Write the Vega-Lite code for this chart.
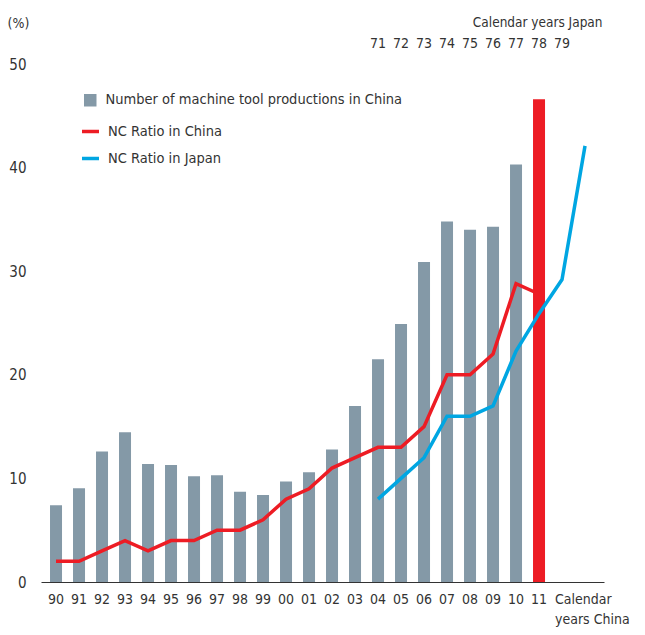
{
  "$schema": "https://vega.github.io/schema/vega-lite/v6.json",
  "autosize": "none",
  "width": 563,
  "height": 518,
  "padding": {"left": 41, "top": 64, "right": 41, "bottom": 53},
  "background": "white",
  "config": {
    "view": {"stroke": null},
    "font": "DejaVu Sans Condensed, Roboto, sans-serif",
    "axis": {"labelFont": "DejaVu Sans Condensed, Roboto, sans-serif", "titleFont": "DejaVu Sans Condensed, Roboto, sans-serif", "labelColor": "#333333", "titleColor": "#333333"},
    "legend": {"labelFont": "DejaVu Sans Condensed, Roboto, sans-serif"}
  },
  "datasets": {
    "bars": [
      {"year": "90", "series": "Number of machine tool productions in China", "value": 7.4},
      {"year": "91", "series": "Number of machine tool productions in China", "value": 9.05},
      {"year": "92", "series": "Number of machine tool productions in China", "value": 12.6},
      {"year": "93", "series": "Number of machine tool productions in China", "value": 14.45},
      {"year": "94", "series": "Number of machine tool productions in China", "value": 11.4},
      {"year": "95", "series": "Number of machine tool productions in China", "value": 11.3},
      {"year": "96", "series": "Number of machine tool productions in China", "value": 10.2},
      {"year": "97", "series": "Number of machine tool productions in China", "value": 10.3},
      {"year": "98", "series": "Number of machine tool productions in China", "value": 8.7},
      {"year": "99", "series": "Number of machine tool productions in China", "value": 8.4},
      {"year": "00", "series": "Number of machine tool productions in China", "value": 9.7},
      {"year": "01", "series": "Number of machine tool productions in China", "value": 10.6},
      {"year": "02", "series": "Number of machine tool productions in China", "value": 12.8},
      {"year": "03", "series": "Number of machine tool productions in China", "value": 17.0},
      {"year": "04", "series": "Number of machine tool productions in China", "value": 21.5},
      {"year": "05", "series": "Number of machine tool productions in China", "value": 24.9},
      {"year": "06", "series": "Number of machine tool productions in China", "value": 30.9},
      {"year": "07", "series": "Number of machine tool productions in China", "value": 34.8},
      {"year": "08", "series": "Number of machine tool productions in China", "value": 34.0},
      {"year": "09", "series": "Number of machine tool productions in China", "value": 34.3},
      {"year": "10", "series": "Number of machine tool productions in China", "value": 40.3},
      {"year": "11", "series": "Number of machine tool productions in China", "value": 46.6}
    ],
    "lines": [
      {"year": "90", "series": "NC Ratio in China", "value": 2},
      {"year": "91", "series": "NC Ratio in China", "value": 2},
      {"year": "92", "series": "NC Ratio in China", "value": 3},
      {"year": "93", "series": "NC Ratio in China", "value": 4},
      {"year": "94", "series": "NC Ratio in China", "value": 3},
      {"year": "95", "series": "NC Ratio in China", "value": 4},
      {"year": "96", "series": "NC Ratio in China", "value": 4},
      {"year": "97", "series": "NC Ratio in China", "value": 5},
      {"year": "98", "series": "NC Ratio in China", "value": 5},
      {"year": "99", "series": "NC Ratio in China", "value": 6},
      {"year": "00", "series": "NC Ratio in China", "value": 8},
      {"year": "01", "series": "NC Ratio in China", "value": 9},
      {"year": "02", "series": "NC Ratio in China", "value": 11},
      {"year": "03", "series": "NC Ratio in China", "value": 12},
      {"year": "04", "series": "NC Ratio in China", "value": 13},
      {"year": "05", "series": "NC Ratio in China", "value": 13},
      {"year": "06", "series": "NC Ratio in China", "value": 15},
      {"year": "07", "series": "NC Ratio in China", "value": 20},
      {"year": "08", "series": "NC Ratio in China", "value": 20},
      {"year": "09", "series": "NC Ratio in China", "value": 22},
      {"year": "10", "series": "NC Ratio in China", "value": 28.8},
      {"year": "11", "series": "NC Ratio in China", "value": 27.8},
      {"year": "04", "series": "NC Ratio in Japan", "value": 8},
      {"year": "05", "series": "NC Ratio in Japan", "value": 10},
      {"year": "06", "series": "NC Ratio in Japan", "value": 12},
      {"year": "07", "series": "NC Ratio in Japan", "value": 16},
      {"year": "08", "series": "NC Ratio in Japan", "value": 16},
      {"year": "09", "series": "NC Ratio in Japan", "value": 17},
      {"year": "10", "series": "NC Ratio in Japan", "value": 22.3},
      {"year": "11", "series": "NC Ratio in Japan", "value": 25.9},
      {"year": "X1", "series": "NC Ratio in Japan", "value": 29.2},
      {"year": "X2", "series": "NC Ratio in Japan", "value": 42.1}
    ]
  },
  "resolve": {"axis": {"x": "independent"}},
  "layer": [
    {
      "data": {"name": "bars"},
      "mark": {"type": "bar"},
      "encoding": {
        "x": {
          "field": "year", "type": "nominal",
          "scale": {
            "domain": ["90","91","92","93","94","95","96","97","98","99","00","01","02","03","04","05","06","07","08","09","10","11","X1","X2"],
            "paddingInner": 0.478, "paddingOuter": 0.478, "align": 0.41
          },
          "axis": {
            "orient": "bottom", "title": null, "ticks": false, "domainColor": "#333333", "domainWidth": 1,
            "labelFontSize": 14, "labelPadding": 10, "labelAngle": 0, "labelOverlap": false, "labelBound": false, "labelFlush": false,
            "labelLineHeight": 20,
            "labelExpr": "datum.value == 'X1' ? '' : datum.value == 'X2' ? ['Calendar', 'years China'] : datum.value",
            "labelAlign": {"condition": {"test": "datum.value == 'X2'", "value": "left"}, "value": "center"},
            "labelOffset": {"condition": {"test": "datum.value == 'X2'", "value": -30}, "value": 0}
          }
        },
        "y": {
          "field": "value", "type": "quantitative",
          "scale": {"domain": [0, 50], "nice": false},
          "axis": {
            "values": [0, 10, 20, 30, 40, 50], "grid": false, "domain": false, "ticks": false,
            "labelFontSize": 15, "labelPadding": 15,
            "title": "(%)", "titleAngle": 0, "titleFontSize": 14, "titleFontWeight": "normal",
            "titleX": -23, "titleY": -41, "titleAlign": "center", "titleBaseline": "middle"
          }
        },
        "fill": {
          "field": "series", "type": "nominal",
          "scale": {"domain": ["Number of machine tool productions in China"], "range": ["#8499a7"]},
          "condition": {"test": "datum.year == '11'", "value": "#ed1c24"},
          "legend": {
            "title": null, "orient": "none", "legendX": 42, "legendY": 29, "padding": 0,
            "symbolType": "square", "symbolSize": 156, "symbolStrokeWidth": 0,
            "labelFontSize": 14.5, "labelColor": "#333333", "labelOffset": 8, "labelLimit": 500
          }
        }
      }
    },
    {
      "data": {"name": "lines"},
      "mark": {"type": "line", "strokeWidth": 3.5, "strokeCap": "butt", "strokeJoin": "miter"},
      "encoding": {
        "x": {
          "field": "year", "type": "nominal",
          "axis": {
            "orient": "top", "domain": false, "ticks": false, "labelAngle": 0,
            "labelFontSize": 14, "labelPadding": 14, "labelOverlap": false, "labelBound": false, "labelFlush": false,
            "labelExpr": "indexof(['04','05','06','07','08','09','10','11','X1'], datum.value) >= 0 ? ['71','72','73','74','75','76','77','78','79'][indexof(['04','05','06','07','08','09','10','11','X1'], datum.value)] : ''",
            "title": "Calendar years Japan", "titleFontSize": 13.5, "titleFontWeight": "normal", "titleAngle": 0,
            "titleX": 561, "titleY": -42, "titleAlign": "right", "titleBaseline": "middle"
          }
        },
        "y": {"field": "value", "type": "quantitative"},
        "stroke": {
          "field": "series", "type": "nominal",
          "scale": {"domain": ["NC Ratio in China", "NC Ratio in Japan"], "range": ["#ed1c24", "#00a6e2"]},
          "legend": {
            "title": null, "orient": "none", "legendX": 39, "legendY": 57, "padding": 0,
            "symbolType": "stroke", "symbolSize": 289, "symbolStrokeWidth": 3.5,
            "labelFontSize": 14.5, "labelColor": "#333333", "labelOffset": 7, "rowPadding": 9, "labelLimit": 500
          }
        }
      }
    }
  ]
}
